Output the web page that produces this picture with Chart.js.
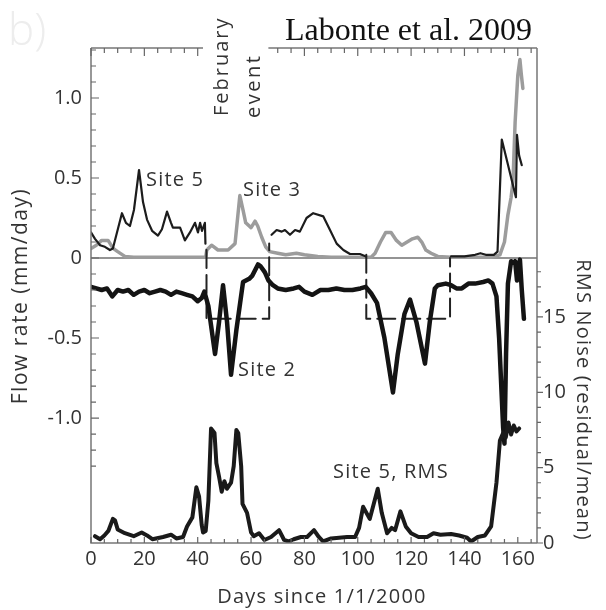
<!DOCTYPE html>
<html>
<head>
<meta charset="utf-8">
<script src="https://cdn.jsdelivr.net/npm/chart.js@4.4.0/dist/chart.umd.min.js"></script>
<style>
  html, body { margin: 0; padding: 0; background: #fff; }
  canvas { display: block; }
</style>
</head>
<body>
<canvas id="flowChart" width="606" height="610"></canvas>
<script>
// tick labels
const dayTicks = [0, 20, 40, 60, 80, 100, 120, 140, 160];
const flowTicks = [-1.0, -0.5, 0, 0.5, 1.0];
const rmsTicks = [0, 5, 10, 15];

// Site 5 flow rate (mm/day), null breaks the line
const site5Days = [0, 1.5, 3.4, 5.2, 7.1, 8.2, 11.6, 13.1, 14.6, 16.1, 18, 19.5, 21, 22.9, 25.1, 26.6, 28.5, 30, 30.7, 33.4, 35.2, 37.1, 39, 40.1, 40.9, 41.6, 42.7, 42.9,
  55,
  67.7, 69.6, 71.5, 72.7, 74.6, 76.5, 78.3, 80.8, 83.3, 87.1, 89.6, 92.1, 94.6, 97.1, 100.8, 103.1,
  118,
  135, 140, 144, 146, 148, 151, 152.4, 154, 159.3, 159.7, 160.5, 161.5];
const site5Flow = [0.16, 0.12, 0.08, 0.07, 0.05, 0.06, 0.28, 0.22, 0.2, 0.3, 0.55, 0.35, 0.24, 0.17, 0.14, 0.18, 0.29, 0.22, 0.19, 0.19, 0.11, 0.16, 0.22, 0.16, 0.22, 0.17, 0.22, 0.09,
  null,
  0.145, 0.175, 0.165, 0.175, 0.145, 0.175, 0.165, 0.25, 0.28, 0.26, 0.175, 0.09, 0.05, 0.025, 0.025, 0.01,
  null,
  0.01, 0.01, 0.02, 0.03, 0.02, 0.02, 0.04, 0.74, 0.38, 0.77, 0.64, 0.58];

// Site 3 flow rate (mm/day)
const site3Days = [0, 2, 4, 6.4, 8.3, 10, 12.7, 16, 43, 43.4, 45.2, 47.6, 51.4, 54, 55.8, 57, 58, 60, 61.5, 62.5, 64, 65.5, 67, 70, 73, 75, 77, 80, 85, 90, 105,
  106.5, 108.5, 110.5, 112.5, 114.5, 116.5, 118.5, 120.5, 122.5, 124, 125.5, 127.5, 130, 135, 150, 153.3, 155, 156.3, 157.5, 158.2, 159, 160, 160.8, 161.3, 161.9];
const site3Flow = [0.06, 0.08, 0.11, 0.11, 0.06, 0.04, 0.01, 0.005, 0.005, 0.05, 0.08, 0.05, 0.05, 0.09, 0.39, 0.3, 0.22, 0.19, 0.23, 0.2, 0.13, 0.07, 0.04, 0.03, 0.02, 0.025, 0.03, 0.02, 0.01, 0.005, 0.005,
  0.03, 0.1, 0.16, 0.16, 0.11, 0.08, 0.1, 0.12, 0.13, 0.1, 0.05, 0.03, 0.01, 0.005, 0.005, 0.02, 0.1, 0.27, 0.38, 0.48, 0.85, 1.14, 1.24, 1.15, 1.06];

// Site 2 flow rate (mm/day), plotted downward
const site2Days = [0, 2, 4, 6, 8, 10, 12, 14, 16, 18, 20, 22, 24, 26, 28, 30, 32, 34, 36, 38, 40, 41.5, 42.5, 44, 46.5, 48, 49.5, 51, 52.5, 54.5, 57, 59.3, 60.5, 62.6, 63.5, 65.2, 66.5, 68.2,
  70, 73, 76, 78, 80, 83, 86, 89, 92, 95, 98, 101, 103, 105, 107.2, 110, 113.2, 115, 117.5, 119.6, 122, 125.2, 127, 128.9,
  130, 133, 135, 137, 139, 141.5, 144, 147, 149, 150.5, 152, 153, 154.5, 155, 155.6, 156.3, 157.5, 158.5, 159, 159.7, 160.3, 160.8, 161.5, 162.3];
const site2Flow = [-0.18, -0.19, -0.2, -0.19, -0.24, -0.2, -0.21, -0.2, -0.23, -0.21, -0.2, -0.22, -0.21, -0.2, -0.21, -0.23, -0.21, -0.22, -0.23, -0.24, -0.27, -0.25, -0.21, -0.3, -0.6, -0.4, -0.17, -0.4, -0.73, -0.45, -0.15, -0.13, -0.11, -0.04, -0.05, -0.09, -0.14, -0.17,
  -0.19, -0.2, -0.19, -0.18, -0.21, -0.23, -0.2, -0.2, -0.19, -0.2, -0.2, -0.19, -0.18, -0.22, -0.28, -0.5, -0.84, -0.6, -0.35, -0.26, -0.4, -0.66, -0.4, -0.19,
  -0.17, -0.16, -0.17, -0.19, -0.19, -0.16, -0.16, -0.15, -0.14, -0.16, -0.24, -0.5, -1.06, -1.16, -0.6, -0.16, -0.02, -0.03, -0.02, -0.14, -0.05, -0.01, -0.2, -0.38];

// Site 5 RMS noise (residual/mean), right axis
const rmsDays = [1.5, 3.4, 5, 6.5, 8.2, 9, 10, 12.7, 16, 19, 21, 23, 27, 30, 32, 34.5, 36, 38, 39.5, 40.5, 41.5, 42, 43, 44, 45, 46.3, 47, 48, 49, 50, 51, 52.5, 53.5, 54.5, 55.2, 56.3, 56.8, 58.5, 60, 61, 63, 65, 67.5, 70.5, 72.4, 74, 76, 78.7, 81, 83.6, 85.4, 87, 90, 93, 96, 99,
  100.5, 102, 104.5, 107.5, 109, 111, 112.7, 114, 116, 118, 120, 122.8, 126, 128.4, 131, 135, 138, 141, 142.5, 145, 147.7, 150, 152, 153.3, 154.5, 155.5, 156.5, 157.5, 158.5, 159.5, 160.5];
const rmsNoise = [0.45, 0.25, 0.5, 0.8, 1.6, 1.5, 0.9, 0.65, 0.45, 0.7, 0.5, 0.25, 0.4, 0.55, 0.3, 0.4, 1.1, 1.7, 3.7, 3.1, 1.2, 0.7, 0.8, 2.8, 7.6, 7.3, 5.3, 4.4, 3.4, 4.1, 3.6, 4.0, 5.1, 7.5, 7.3, 5.1, 2.6, 2.0, 0.7, 0.45, 0.65, 0.2, 0.4, 0.85, 0.2, 0.1, 0.25, 0.4, 0.4, 0.85, 0.4, 0.1, 0.3, 0.35, 0.4, 0.4,
  1.0, 2.4, 1.6, 3.6, 2.0, 0.65, 1.0, 0.85, 2.1, 1.1, 0.65, 0.4, 0.4, 0.65, 0.55, 0.6, 0.5, 0.35, 0.1, 0.4, 0.5, 1.1, 4.0, 6.8, 7.3, 7.0, 8.0, 7.2, 7.8, 7.4, 7.6];

// dashed event brackets
const febDays = [43.3, 43.3, 66.8, 66.8];
const febFlow = [0.05, -0.38, -0.38, 0.09];
const aprDays = [103.2, 103.2, 134.6, 134.6];
const aprFlow = [0.02, -0.38, -0.38, 0.0];

function toPoints(xs, ys) {
  return xs.map((x, i) => ({ x: x, y: ys[i] }));
}

const textFont = "'Open Sans', 'DejaVu Sans', sans-serif";

function drawText(ctx, str, x, y, opts) {
  ctx.save();
  ctx.font = opts.font;
  ctx.fillStyle = opts.color || '#333';
  ctx.textAlign = opts.align || 'left';
  ctx.textBaseline = opts.baseline || 'middle';
  if (opts.spacing) ctx.letterSpacing = opts.spacing;
  ctx.translate(x, y);
  if (opts.rotate) ctx.rotate(opts.rotate);
  ctx.fillText(str, 0, 0);
  ctx.restore();
}

// zero line under the data
const zeroLine = {
  id: 'zeroLine',
  beforeDatasetsDraw(chart) {
    const ctx = chart.ctx, a = chart.chartArea;
    const y0 = chart.scales.y.getPixelForValue(0);
    ctx.save();
    ctx.strokeStyle = '#707070';
    ctx.lineWidth = 1.5;
    ctx.beginPath();
    ctx.moveTo(a.left, y0);
    ctx.lineTo(a.right, y0);
    ctx.stroke();
    ctx.restore();
  }
};

// frame, inward ticks and all the free text
const frameAndText = {
  id: 'frameAndText',
  afterDraw(chart) {
    const ctx = chart.ctx, a = chart.chartArea;
    const xs = chart.scales.x, ys = chart.scales.y, rs = chart.scales.y2;
    const gapL = xs.getPixelForValue(42), gapR = xs.getPixelForValue(66.5);

    ctx.save();
    ctx.strokeStyle = '#777';
    ctx.lineWidth = 1.5;
    ctx.beginPath();
    ctx.moveTo(a.left, a.top); ctx.lineTo(gapL, a.top);
    ctx.moveTo(gapR, a.top); ctx.lineTo(a.right, a.top);
    ctx.moveTo(a.left, a.top); ctx.lineTo(a.left, a.bottom);
    ctx.lineTo(a.right, a.bottom);
    ctx.moveTo(a.right, a.top); ctx.lineTo(a.right, a.bottom);
    ctx.stroke();

    ctx.lineWidth = 1.2;
    ctx.strokeStyle = '#666';
    ctx.beginPath();
    for (let d = 0; d <= 165; d += 5) {
      const px = xs.getPixelForValue(d);
      const major = d % 20 === 0;
      if (px < gapL - 1 || px > gapR + 1) {
        ctx.moveTo(px, a.top); ctx.lineTo(px, a.top + (major ? 8 : 5));
      }
      ctx.moveTo(px, a.bottom); ctx.lineTo(px, a.bottom - (major ? 6 : 4));
    }
    for (let k = -13; k <= 13; k++) {
      const py = ys.getPixelForValue(k / 10);
      const major = k % 5 === 0;
      ctx.moveTo(a.left, py); ctx.lineTo(a.left + (major ? 8 : 5), py);
    }
    for (let r = 0; r <= 18; r++) {
      const py = rs.getPixelForValue(r);
      ctx.moveTo(a.right, py); ctx.lineTo(a.right + (r % 5 === 0 ? 6 : 4), py);
    }
    ctx.stroke();
    ctx.restore();

    // headings
    drawText(ctx, 'b)', 8, 32, { font: '300 44px ' + textFont, color: '#ededed' });
    drawText(ctx, 'Labonte et al. 2009', 285, 40, { font: "32px 'Liberation Serif', serif", color: '#111', baseline: 'alphabetic' });
    drawText(ctx, 'February', 222, 116, { font: '20px ' + textFont, rotate: -Math.PI / 2, spacing: '2px' });
    drawText(ctx, 'event', 254, 118, { font: '20px ' + textFont, rotate: -Math.PI / 2, spacing: '2.5px' });

    // axis titles
    drawText(ctx, 'Flow rate (mm/day)', 21, 296, { font: '21px ' + textFont, rotate: -Math.PI / 2, align: 'center', spacing: '1.5px' });
    drawText(ctx, 'RMS Noise (residual/mean)', 583, 400, { font: '20px ' + textFont, rotate: Math.PI / 2, align: 'center', spacing: '1.2px' });
    drawText(ctx, 'Days since 1/1/2000', 322, 597, { font: '20px ' + textFont, align: 'center', spacing: '1.2px' });

    // series labels
    const lab = { font: '20px ' + textFont, spacing: '1.2px' };
    drawText(ctx, 'Site 5', 146, 180, lab);
    drawText(ctx, 'Site 3', 243, 190, lab);
    drawText(ctx, 'Site 2', 238, 370, lab);
    drawText(ctx, 'Site 5, RMS', 333, 472, lab);
  }
};

const tickFont = { family: textFont, size: 20 };

const flowChart = new Chart(document.getElementById('flowChart').getContext('2d'), {
  type: 'scatter',
  data: {
    datasets: [
      {
        label: 'Site 3',
        data: toPoints(site3Days, site3Flow),
        borderColor: '#9c9c9c',
        borderWidth: 3.5,
        order: 5
      },
      {
        label: 'Site 5',
        data: toPoints(site5Days, site5Flow),
        borderColor: '#1c1c1c',
        borderWidth: 2.2,
        order: 4
      },
      {
        label: 'February event',
        data: toPoints(febDays, febFlow),
        borderColor: '#222',
        borderWidth: 2,
        borderDash: [18, 7],
        order: 3
      },
      {
        label: 'April event',
        data: toPoints(aprDays, aprFlow),
        borderColor: '#222',
        borderWidth: 2,
        borderDash: [18, 7],
        order: 3
      },
      {
        label: 'Site 2',
        data: toPoints(site2Days, site2Flow),
        borderColor: '#141414',
        borderWidth: 4.5,
        order: 2
      },
      {
        label: 'Site 5, RMS',
        data: toPoints(rmsDays, rmsNoise),
        yAxisID: 'y2',
        borderColor: '#1a1a1a',
        borderWidth: 4,
        order: 1
      }
    ]
  },
  options: {
    responsive: false,
    animation: false,
    devicePixelRatio: 1,
    showLine: true,
    spanGaps: false,
    elements: {
      point: { radius: 0, hoverRadius: 0 },
      line: { tension: 0, borderJoinStyle: 'round', borderCapStyle: 'round', fill: false }
    },
    layout: { padding: { top: 48, left: 0, right: 0, bottom: 0 } },
    plugins: {
      legend: { display: false },
      tooltip: { enabled: false }
    },
    scales: {
      x: {
        type: 'linear',
        position: 'bottom',
        min: 0,
        max: 167.2,
        grid: { display: false, drawTicks: false },
        border: { display: false },
        ticks: { font: tickFont, color: '#333', padding: 4, autoSkip: false, maxRotation: 0 },
        afterBuildTicks(scale) { scale.ticks = dayTicks.map(v => ({ value: v })); },
        afterFit(scale) { scale.height = 67; }
      },
      y: {
        type: 'linear',
        position: 'left',
        min: -1.781,
        max: 1.3125,
        grid: { display: false, drawTicks: false },
        border: { display: false },
        ticks: {
          font: tickFont, color: '#333', padding: 9, autoSkip: false,
          callback: v => (v === 0 ? '0' : v.toFixed(1))
        },
        afterBuildTicks(scale) { scale.ticks = flowTicks.map(v => ({ value: v })); },
        afterFit(scale) { scale.width = 91; }
      },
      y2: {
        type: 'linear',
        position: 'right',
        min: 0,
        max: 32.85,
        grid: { display: false, drawTicks: false },
        border: { display: false },
        ticks: { font: tickFont, color: '#333', padding: 6, autoSkip: false },
        afterBuildTicks(scale) { scale.ticks = rmsTicks.map(v => ({ value: v })); },
        afterFit(scale) { scale.width = 69; }
      }
    }
  },
  plugins: [zeroLine, frameAndText]
});
</script>
</body>
</html>
